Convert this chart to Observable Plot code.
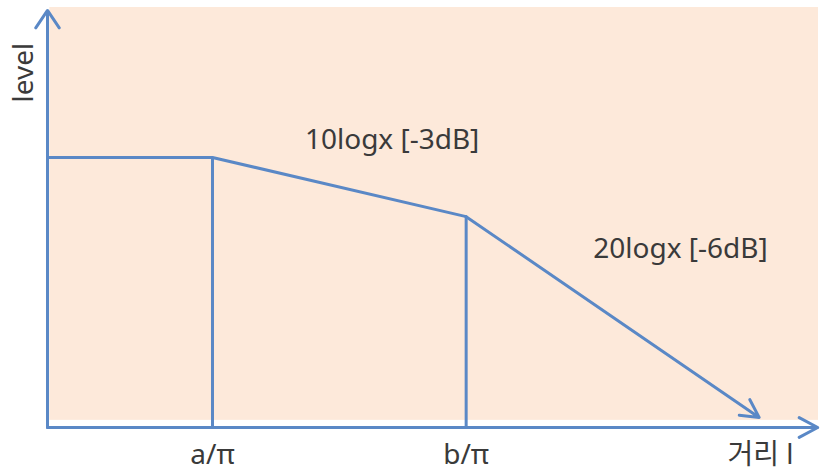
<!DOCTYPE html>
<html>
<head>
<meta charset="utf-8">
<script src="https://cdn.jsdelivr.net/npm/d3@7"></script>
<script src="https://cdn.jsdelivr.net/npm/@observablehq/plot@0.6"></script>
<style>
  html, body { margin: 0; padding: 0; background: #ffffff; }
  #chart svg { display: block; }
</style>
</head>
<body>
<div id="chart"></div>
<script>
// Breakpoints of the level-vs-distance curve (abstract units 0..100)
const breakX = [0, 21.4, 54.3, 92.3];
const levelY = [64.3, 64.3, 50.2, 2.4];

// Tick labels at the two break distances
const tickX = [breakX[1], breakX[2]];
const tickLabels = ["a/π", "b/π"];

// Slope annotations
const slopeLabels = ["10logx [-3dB]", "20logx [-6dB]"];
const slopeLabelX = [44.7, 82.1];
const slopeLabelY = [66.4, 40.4];

// Axis titles
const yTitle = "level";
const xTitle = "거리 l";

// Plot area (shaded region) and axis extents
const regionX = [0.3, 100];
const regionY = [1.7, 100];
const axisEndX = 99.9;
const axisEndY = 99.3;

const blue = "#5A88C6";
const textColor = "#3a3a3a";
const font = "'Noto Sans', 'Noto Sans CJK KR', sans-serif";

const curve = breakX.map((x, i) => ({x, y: levelY[i]}));
const flatAndSlope = curve.slice(0, 3);
const lastSeg = [{x1: curve[2].x, y1: curve[2].y, x2: curve[3].x, y2: curve[3].y}];
const drops = [curve[1], curve[2]];
const region = [{x1: regionX[0], x2: regionX[1], y1: regionY[0], y2: regionY[1]}];
const axesArrows = [
  {x1: 0, y1: 0, x2: axisEndX, y2: 0},
  {x1: 0, y1: 0, x2: 0, y2: axisEndY}
];
const slopeTexts = slopeLabels.map((t, i) => ({t, x: slopeLabelX[i], y: slopeLabelY[i]}));

const chart = Plot.plot({
  width: 822,
  height: 475,
  marginLeft: 47,
  marginRight: 4,
  marginTop: 7,
  marginBottom: 48,
  style: {fontFamily: font, background: "#ffffff"},
  x: {domain: [0, 100], axis: null, label: null},
  y: {domain: [0, 100], axis: null, label: null},
  marks: [
    Plot.rect(region, {x1: "x1", x2: "x2", y1: "y1", y2: "y2", fill: "#FDE9DA"}),
    Plot.ruleX(drops, {x: "x", y1: 0, y2: "y", stroke: blue, strokeWidth: 3}),
    Plot.line(flatAndSlope, {x: "x", y: "y", stroke: blue, strokeWidth: 3}),
    Plot.arrow(lastSeg, {x1: "x1", y1: "y1", x2: "x2", y2: "y2", stroke: blue, strokeWidth: 3, headAngle: 56, headLength: 10}),
    Plot.arrow([axesArrows[0]], {x1: "x1", y1: "y1", x2: "x2", y2: "y2", stroke: blue, strokeWidth: 3, headAngle: 56, headLength: 10.5}),
    Plot.arrow([axesArrows[1]], {x1: "x1", y1: "y1", x2: "x2", y2: "y2", stroke: blue, strokeWidth: 3, headAngle: 68, headLength: 10.5}),
    Plot.axisX(tickX, {
      tickFormat: d => tickLabels[tickX.indexOf(d)],
      tickSize: 0, tickPadding: 17, fontSize: 28, color: textColor, label: null
    }),
    Plot.text(slopeTexts, {x: "x", y: "y", text: "t", fontSize: 28, fill: textColor, lineAnchor: "bottom", textAnchor: "middle"}),
    Plot.text([xTitle], {x: 88.2, y: -8.8, text: d => d, fontSize: 28, fill: textColor, lineAnchor: "bottom", textAnchor: "start"}),
    Plot.text([yTitle], {x: -3.0, y: 84.5, text: d => d, fontSize: 28, fill: textColor, rotate: -90, lineAnchor: "middle", textAnchor: "middle"})
  ]
});
document.getElementById("chart").appendChild(chart);
</script>
</body>
</html>
